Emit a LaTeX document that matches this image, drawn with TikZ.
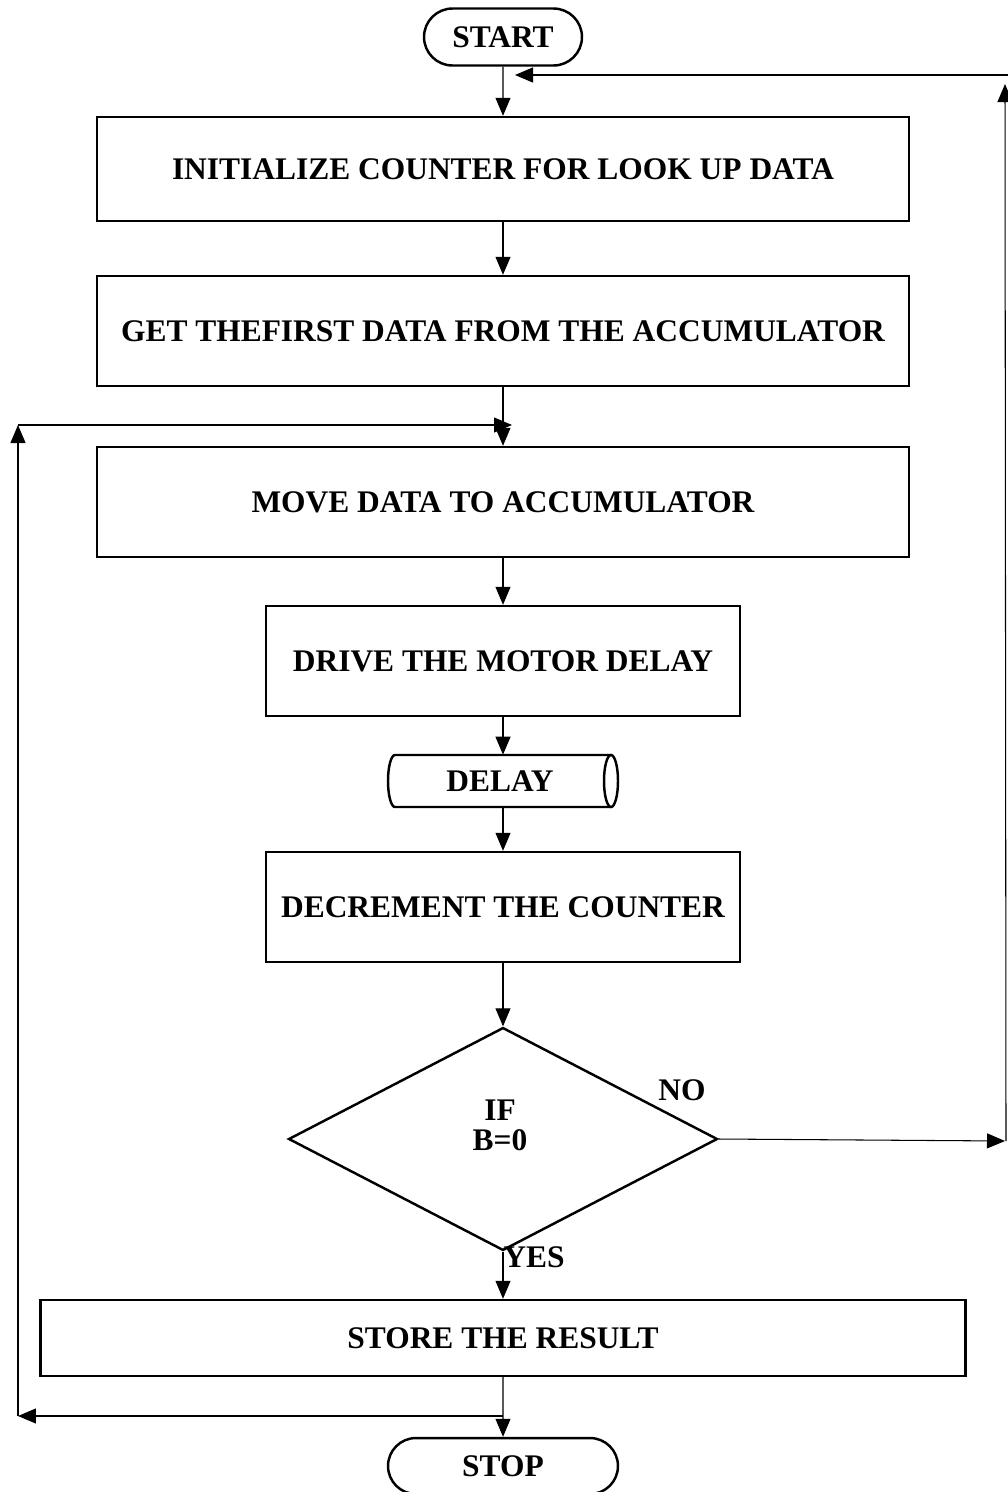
\documentclass[tikz,border=0pt]{standalone}
\usepackage{fontspec}
\setmainfont{Liberation Serif}
\usepackage{tikz}
\usetikzlibrary{arrows.meta}
\usetikzlibrary{shapes.geometric}
\usetikzlibrary{shapes.misc}
\tikzset{flow/.style = {-{Triangle[length=0.36cm, width=0.3cm]}, line width=0.6pt},
         box/.style = {draw, line width=1.4pt, rectangle, inner sep=0pt,
                       font=\fontsize{17.9}{20}\selectfont\bfseries},
         term/.style = {box, rounded rectangle},
         txt/.style = {font=\fontsize{17.9}{17}\selectfont\bfseries, inner sep=0pt}}

\begin{document}
\begin{tikzpicture}[x=0.02cm, y=-0.02cm]
      \useasboundingbox (0, 0) rectangle (1008, 1492);

      \node [term, minimum width=3.16cm, minimum height=1.14cm] (start) at (503, 37) {START};
      \node [box, minimum width=16.24cm, minimum height=2.08cm] (init) at (503, 169) {INITIALIZE COUNTER FOR LOOK UP DATA};
      \node [box, minimum width=16.24cm, minimum height=2.2cm] (getdata) at (503, 331) {GET THEFIRST DATA FROM THE ACCUMULATOR};
      \node [box, minimum width=16.24cm, minimum height=2.2cm] (move) at (503, 502) {MOVE DATA TO ACCUMULATOR};
      \node [box, minimum width=9.48cm, minimum height=2.2cm] (drive) at (503, 661) {DRIVE THE MOTOR DELAY};
      \node [txt, minimum width=4.6cm, minimum height=1.04cm] (delay) at (500, 781) {DELAY};
      \node [box, minimum width=9.48cm, minimum height=2.2cm] (decr) at (503, 907) {DECREMENT THE COUNTER};
      \node [box, diamond, minimum width=8.58cm, minimum height=4.46cm] (test) at (503, 1139) {};
      \node [txt, align=center] (cond) at (500, 1125) {IF\\B=0};
      \node [box, minimum width=18.5cm, minimum height=1.52cm] (store) at (503, 1338) {STORE THE RESULT};
      \node [term, minimum width=4.6cm, minimum height=1.12cm] (stop) at (503, 1466) {STOP};

      \node [txt] (no) at (682, 1090) {NO};
      \node [txt] (yes) at (534, 1257) {YES};

      % the delay drum
      \draw [line width=1.4pt] (611, 755) -- (395, 755)
            arc [start angle=90, end angle=270, x radius=0.14cm, y radius=0.52cm] -- (611, 807);
      \draw [line width=1.4pt] (611, 781) ellipse [x radius=0.14cm, y radius=0.52cm];

      \draw [flow] (start) -- (init);
      \draw [flow] (init) -- (getdata);
      \draw [flow] (getdata) -- (move);
      \draw [flow] (move) -- (drive);
      \draw [flow] (drive) -- (drive |- delay.north);
      \draw [flow] (drive |- delay.south) -- (decr);
      \draw [flow] (decr) -- (test.north);
      \draw [flow] (test.south) -- (store);
      \draw [flow] (store) -- (stop);

      % loop back on the right
      \coordinate (rbot) at (1005, 1141);
      \coordinate (rtop) at (1005, 84);
      \coordinate (redge) at (1008, 75);
      \coordinate (rin) at (515, 75);
      \draw [flow] (test.east) -- (rbot);
      \draw [flow] (1006, 1141) -- (rtop);
      \draw [flow] (redge) -- (rin);

      % loop back on the left
      \coordinate (lout) at (503, 1416);
      \coordinate (lbot) at (18, 1416);
      \coordinate (ltop) at (18, 425);
      \coordinate (lin) at (512, 425);
      \draw [flow] (lout) -- (lbot);
      \draw [flow] (lbot) -- (ltop);
      \draw [flow] (ltop) -- (lin);
    \end{tikzpicture}
\end{document}
